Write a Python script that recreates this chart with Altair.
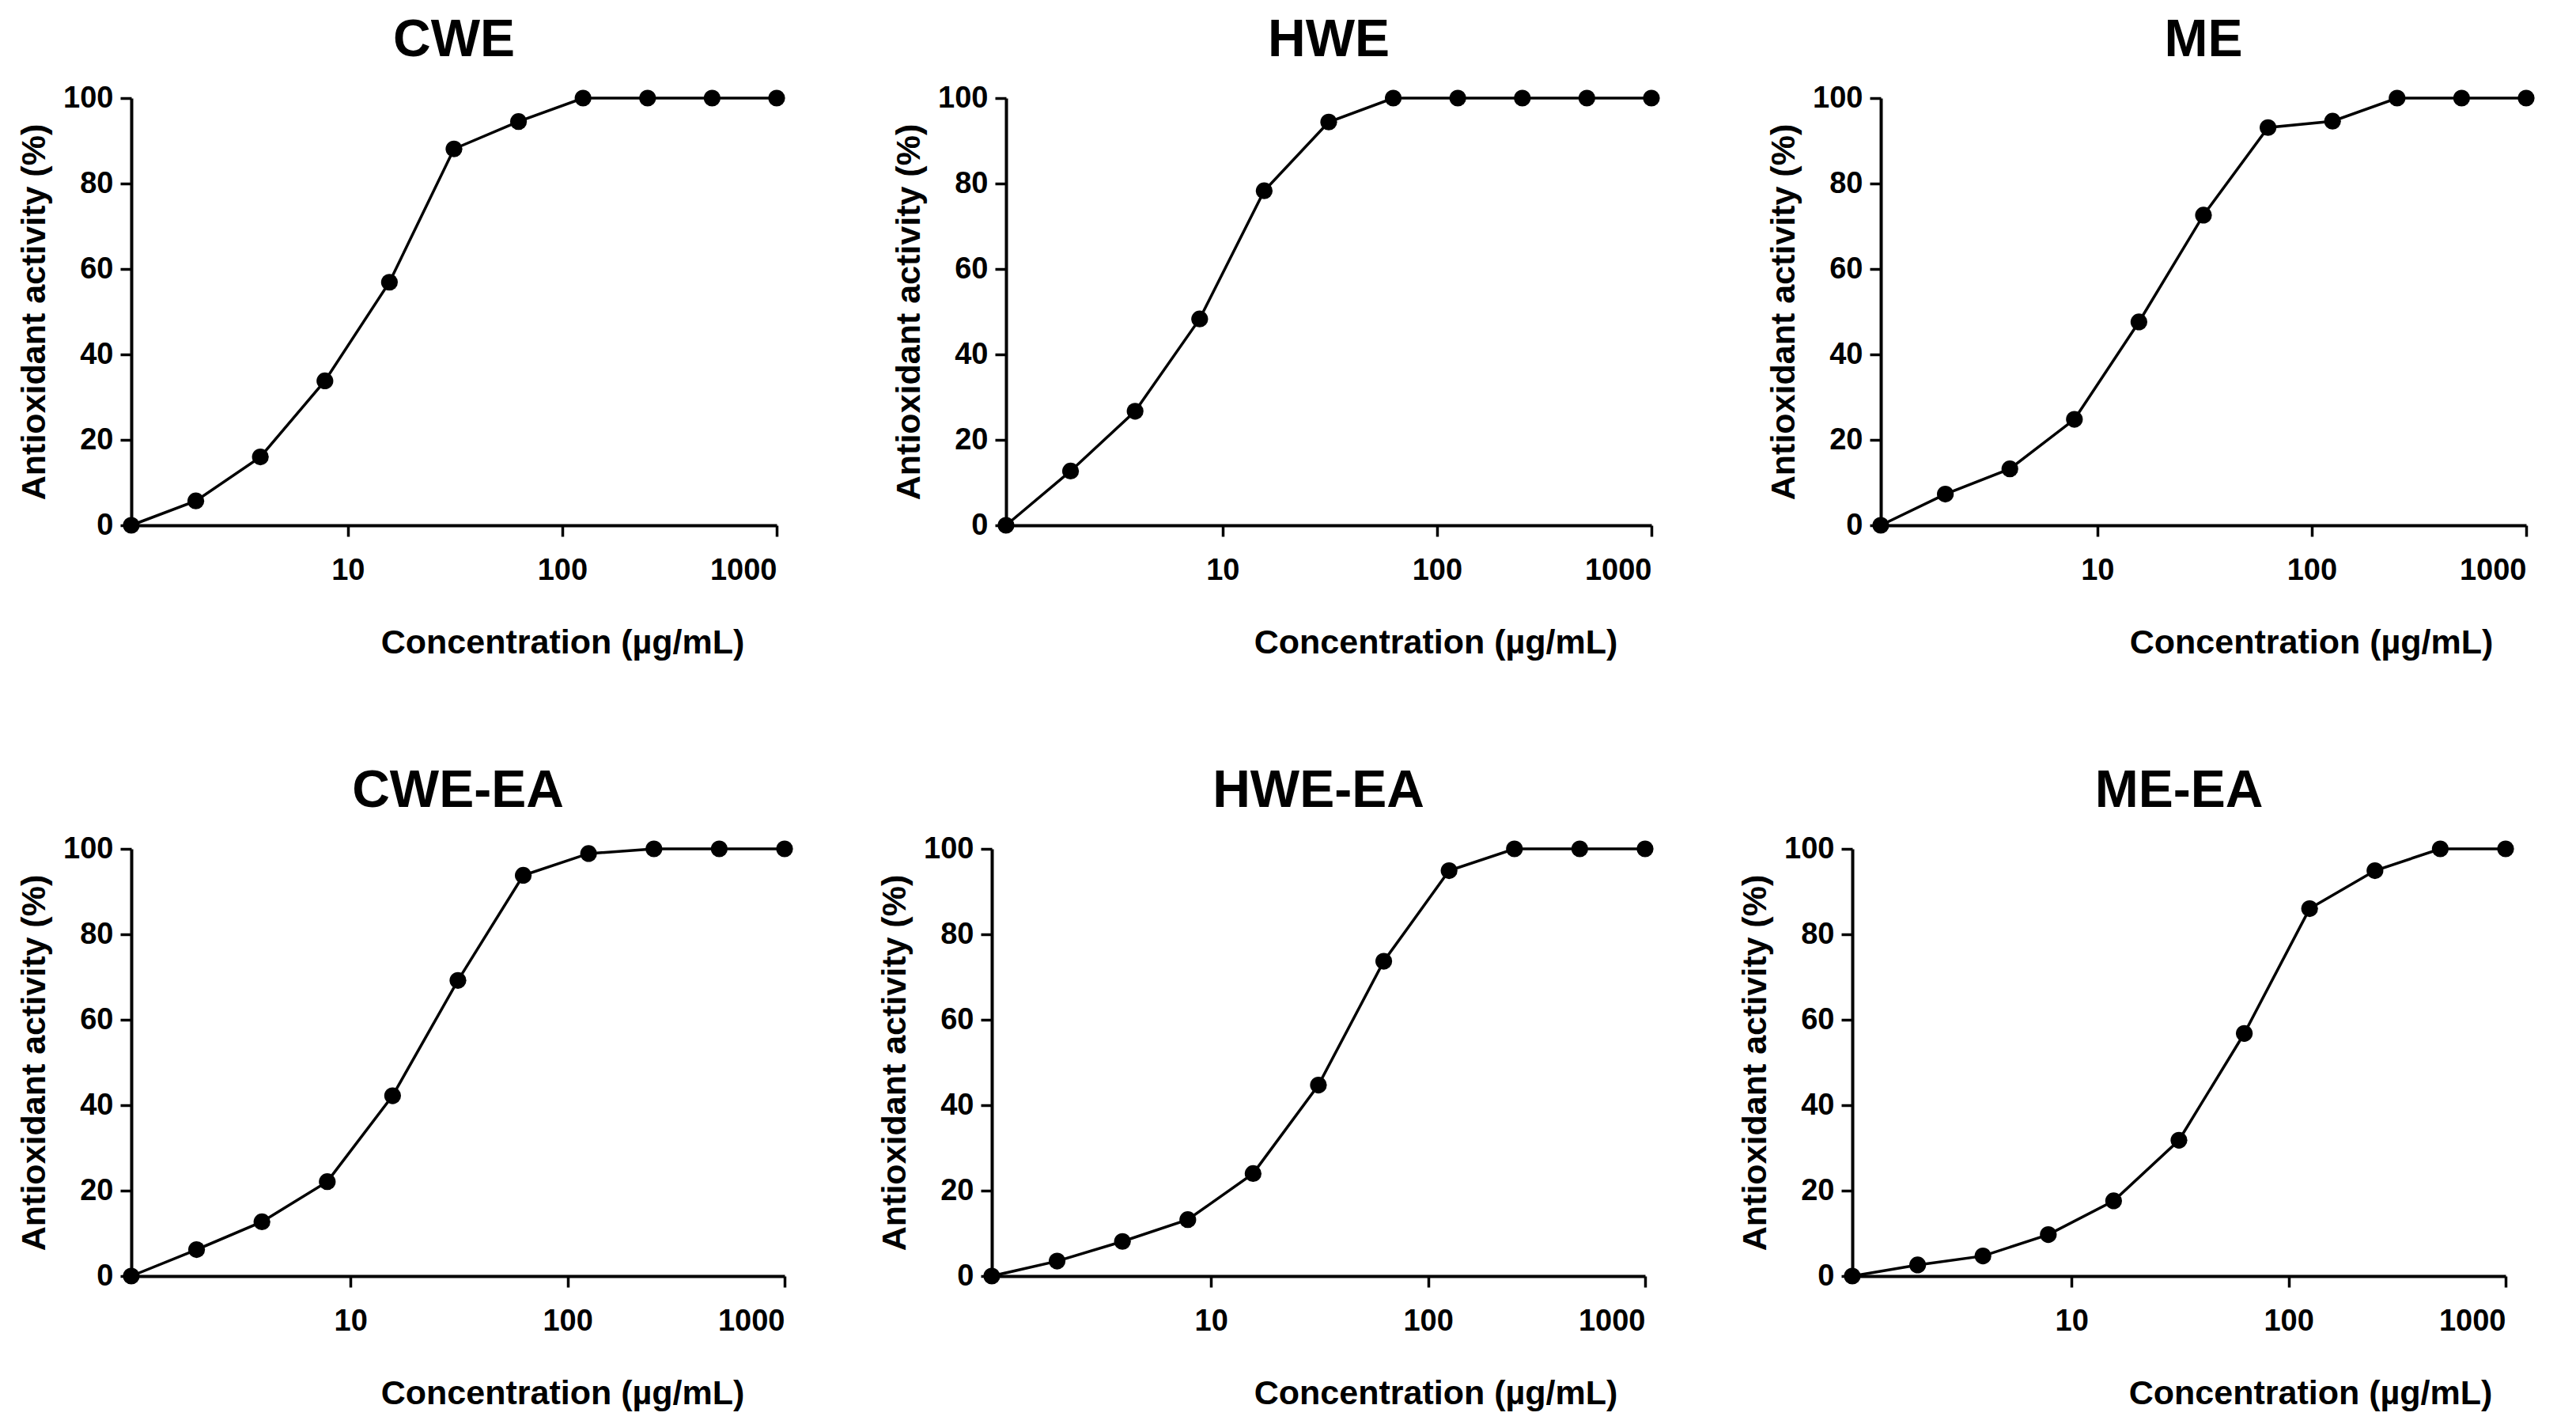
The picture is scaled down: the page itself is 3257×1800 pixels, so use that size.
import altair as alt
import pandas as pd

# Concentrations (µg/mL), two-fold serial dilution from 1000
conc = [0.9765625, 1.953125, 3.90625, 7.8125, 15.625, 31.25, 62.5, 125, 250, 500, 1000]

# Antioxidant activity (%)
cwe = [0, 5.7, 16.0, 33.8, 56.9, 88.1, 94.5, 100, 100, 100, 100]
hwe = [0, 12.7, 26.7, 48.3, 78.3, 94.4, 100, 100, 100, 100, 100]
me = [0, 7.3, 13.2, 24.8, 47.6, 72.6, 93.1, 94.6, 100, 100, 100]
cwe_ea = [0, 6.2, 12.7, 22.1, 42.2, 69.2, 93.8, 98.9, 100, 100, 100]
hwe_ea = [0, 3.5, 8.1, 13.2, 24.0, 44.7, 73.7, 94.9, 100, 100, 100]
me_ea = [0, 2.6, 4.7, 9.7, 17.6, 31.8, 56.8, 86.0, 94.9, 100, 100]

titles = ["CWE", "HWE", "ME", "CWE-EA", "HWE-EA", "ME-EA"]
x_ticks = [10, 100, 1000]
y_ticks = [0, 20, 40, 60, 80, 100]
x_title = "Concentration (µg/mL)"
y_title = "Antioxidant activity (%)"

AX_FONT = "Liberation Sans, Arial"
TITLE_FONT = "Liberation Sans, Arial"


def panel(name, vals, w, h, title_x):
    df = pd.DataFrame({"c": conc, "a": vals})
    x = alt.X(
        "c:Q",
        scale=alt.Scale(type="log", domain=[conc[0], 1000]),
        axis=alt.Axis(
            values=x_ticks, format="d", title=x_title,
            titleX=title_x, titleY=161, titleAlign="center",
            titleBaseline="alphabetic", labelPadding=24,
        ),
    )
    y = alt.Y(
        "a:Q",
        scale=alt.Scale(domain=[0, 100], nice=False),
        axis=alt.Axis(
            values=y_ticks, title=y_title, labelPadding=9,
            titleAngle=270, titleX=-110, titleY=h / 2,
            titleAlign="center", titleBaseline="alphabetic",
        ),
    )
    base = alt.Chart(df).encode(x=x, y=y)
    line = base.mark_line(color="black", strokeWidth=3.5)
    pts = base.mark_circle(color="black", size=450, opacity=1)
    return alt.layer(line, pts).properties(
        width=w, height=h,
        title=alt.TitleParams(
            text=name, font=TITLE_FONT, fontSize=66, fontWeight="bold",
            color="black", frame="group", offset=20, anchor="middle",
        ),
    )


row1 = alt.hconcat(
    panel(titles[0], cwe, 816, 540, 545),
    panel(titles[1], hwe, 816, 540, 543),
    panel(titles[2], me, 816, 540, 544),
    spacing=290, bounds="flush",
)
row2 = alt.hconcat(
    panel(titles[3], cwe_ea, 826, 540, 545),
    panel(titles[4], hwe_ea, 826, 540, 561),
    panel(titles[5], me_ea, 826, 540, 579),
    spacing=262, bounds="flush",
)

chart = (
    alt.vconcat(row1, row2, spacing=133)
    .properties(padding={"left": 13, "top": 10, "right": 5, "bottom": 5}, background="white")
    .configure_view(strokeWidth=0)
    .configure_axis(
        grid=False,
        domainColor="black", domainWidth=4,
        tickColor="black", tickWidth=3.5, tickSize=14,
        labelFont=AX_FONT, labelFontSize=38, labelFontWeight="bold", labelColor="black",
        titleFont=AX_FONT, titleFontSize=43, titleFontWeight="bold", titleColor="black",
    )
)

chart.save("out.html", embed_options={"renderer": "svg", "actions": False})
